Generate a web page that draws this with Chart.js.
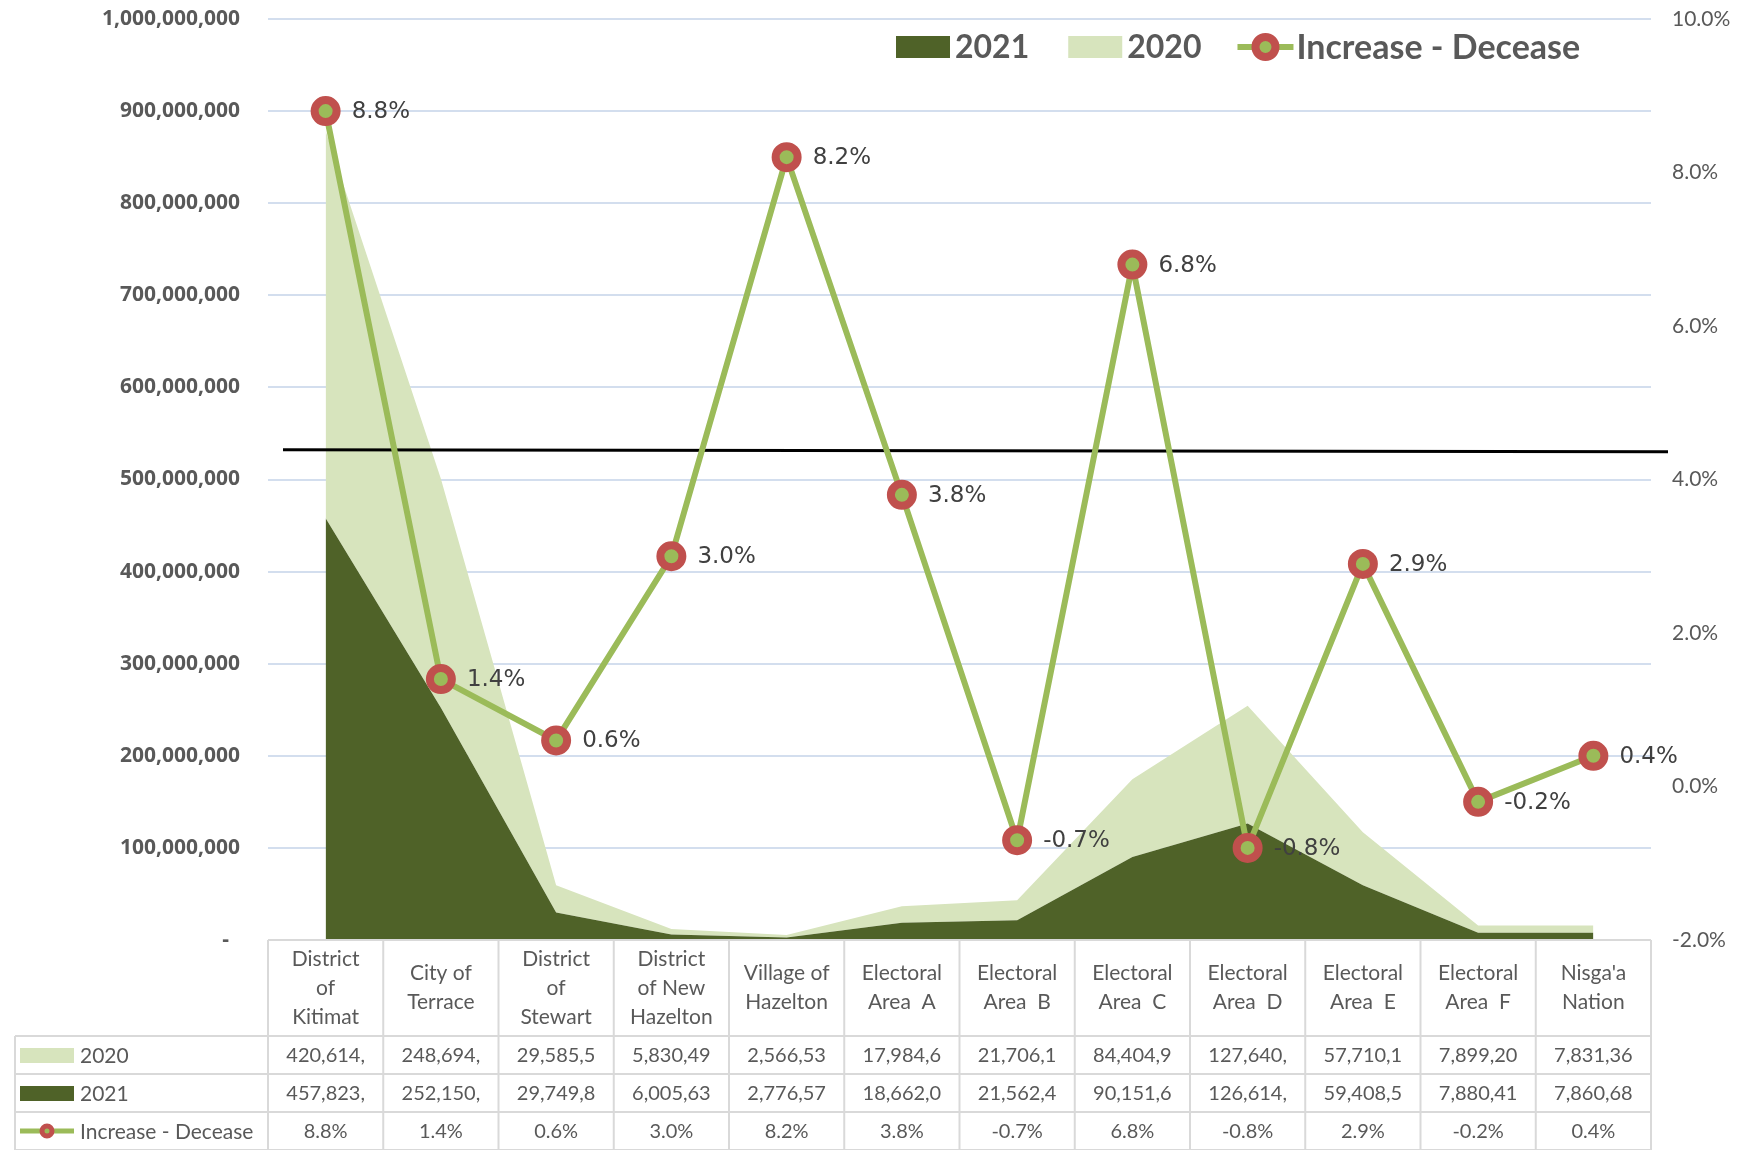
<!DOCTYPE html>
<html><head><meta charset="utf-8">
<script src="https://cdn.jsdelivr.net/npm/chart.js@4.4.1/dist/chart.umd.min.js"></script>
<style>html,body{margin:0;padding:0;background:#fff}canvas{display:block}</style>
</head><body>
<canvas id="c" width="1739" height="1150"></canvas>
<script>
// ---- data ----
const categories = [
  ["District","of","Kitimat"],["City of","Terrace"],["District","of","Stewart"],
  ["District","of New","Hazelton"],["Village of","Hazelton"],["Electoral","Area  A"],
  ["Electoral","Area  B"],["Electoral","Area  C"],["Electoral","Area  D"],
  ["Electoral","Area  E"],["Electoral","Area  F"],["Nisga'a","Nation"]
];
const values2020 = [420614000, 248694000, 29585500, 5830490, 2566530, 17984600, 21706100, 84404900, 127640000, 57710100, 7899200, 7831360];
const values2021 = [457823000, 252150000, 29749800, 6005630, 2776570, 18662000, 21562400, 90151600, 126614000, 59408500, 7880410, 7860680];
const changePct = [8.8, 1.4, 0.6, 3.0, 8.2, 3.8, -0.7, 6.8, -0.8, 2.9, -0.2, 0.4];
const leftAxisRange = [0, 1000000000, 100000000];   // min, max, step
const rightAxisRange = [-2, 10, 2];                  // min, max, step (percent)
const benchmarkPct = 4.38;                           // black reference line (right axis)
const seriesNames = ["2021", "2020", "Increase - Decease"];

// ---- style ----
const C = {dark:'#4F6228', light:'#D7E4BD', line:'#9BBB59', marker:'#C0504D',
           text:'#595959', label:'#404040', grid:'#D3DEEE', border:'#D9D9D9'};

const fmtPct = v => v.toFixed(1) + '%';
const fmtNum = v => Math.round(v).toLocaleString('en-US');

const benchmarkPlugin = {
  id:'benchmark',
  beforeDatasetDraw(chart, args){
    if (args.index !== 0) return;
    const ctx = chart.ctx, a = chart.chartArea;
    const y = chart.scales.y1.getPixelForValue(benchmarkPct);
    ctx.save();
    ctx.strokeStyle = '#000'; ctx.lineWidth = 3;
    ctx.beginPath(); ctx.moveTo(a.left + 15, y - 0.5); ctx.lineTo(a.right + 17, y + 1.5); ctx.stroke();
    ctx.restore();
  }
};

const labelPlugin = {
  id:'pctLabels',
  afterDatasetsDraw(chart){
    const ctx = chart.ctx; const meta = chart.getDatasetMeta(0);
    ctx.save();
    ctx.font = '23px "DejaVu Sans"'; ctx.fillStyle = C.label;
    ctx.textAlign = 'left'; ctx.textBaseline = 'middle';
    meta.data.forEach((pt, i) => ctx.fillText(fmtPct(changePct[i]), pt.x + 26, pt.y + 1));
    ctx.restore();
  }
};

function drawMarker(ctx, x, y, r, bw){
  ctx.beginPath(); ctx.arc(x, y, r, 0, Math.PI*2);
  ctx.fillStyle = C.line; ctx.fill();
  ctx.lineWidth = bw; ctx.strokeStyle = C.marker; ctx.stroke();
}

const legendPlugin = {
  id:'customLegend',
  afterDraw(chart){
    const ctx = chart.ctx; ctx.save();
    const cy = 47;
    ctx.font = 'bold 32px Lato'; ctx.textBaseline = 'middle'; ctx.textAlign = 'left';
    let x = 896;
    // 2021
    ctx.fillStyle = C.dark; ctx.fillRect(x, cy - 11, 54, 22); x += 59;
    ctx.fillStyle = C.text; ctx.fillText(seriesNames[0], x, cy + 1); x += ctx.measureText(seriesNames[0]).width + 39;
    // 2020
    ctx.fillStyle = C.light; ctx.fillRect(x, cy - 11, 54, 22); x += 59;
    ctx.fillStyle = C.text; ctx.fillText(seriesNames[1], x, cy + 1); x += ctx.measureText(seriesNames[1]).width + 36;
    // line
    ctx.strokeStyle = C.line; ctx.lineWidth = 6;
    ctx.beginPath(); ctx.moveTo(x, cy); ctx.lineTo(x + 56, cy); ctx.stroke();
    drawMarker(ctx, x + 28, cy, 10, 8);
    x += 59;
    ctx.font = 'bold 34px Lato';
    ctx.fillStyle = C.text; ctx.fillText(seriesNames[2], x, cy + 1);
    ctx.restore();
  }
};

const tablePlugin = {
  id:'dataTable',
  afterDraw(chart){
    const ctx = chart.ctx, xs = chart.scales.x, a = chart.chartArea;
    const n = categories.length;
    const band = (a.right - a.left) / n;
    const top = a.bottom, headerH = 96, rowH = 38, leftEdge = 15;
    const rowsY = [top, top + headerH, top + headerH + rowH, top + headerH + 2*rowH, top + headerH + 3*rowH];
    ctx.save();
    ctx.strokeStyle = C.border; ctx.lineWidth = 2;
    ctx.beginPath();
    ctx.moveTo(a.left, rowsY[0]); ctx.lineTo(a.right, rowsY[0]);
    for (let r = 1; r < rowsY.length; r++){ ctx.moveTo(leftEdge, rowsY[r]); ctx.lineTo(a.right, rowsY[r]); }
    for (let i = 0; i <= n; i++){ const bx = a.left + i*band; ctx.moveTo(bx, rowsY[0]); ctx.lineTo(bx, 1150); }
    ctx.moveTo(leftEdge, rowsY[1]); ctx.lineTo(leftEdge, 1150);
    ctx.stroke();

    ctx.fillStyle = C.text; ctx.textAlign = 'center'; ctx.textBaseline = 'middle';
    ctx.font = '21px Lato';
    const hc = (rowsY[0] + rowsY[1]) / 2;
    categories.forEach((lines, i) => {
      const cx = xs.getPixelForValue(i);
      const lh = 29, y0 = hc - (lines.length - 1) * lh / 2;
      lines.forEach((t, k) => ctx.fillText(t, cx, y0 + k*lh));
    });
    ctx.font = '20px Lato';
    const rowData = [values2020.map(v => fmtNum(v).slice(0, 8)), values2021.map(v => fmtNum(v).slice(0, 8)), changePct.map(fmtPct)];
    rowData.forEach((arr, r) => {
      const cy = (rowsY[r+1] + rowsY[r+2]) / 2;
      arr.forEach((t, i) => ctx.fillText(t, xs.getPixelForValue(i), cy + 1));
    });
    // row headers
    ctx.textAlign = 'left'; ctx.font = '21px Lato';
    const rc = r => (rowsY[r+1] + rowsY[r+2]) / 2;
    ctx.fillStyle = C.light; ctx.fillRect(20, rc(0) - 7, 54, 15);
    ctx.fillStyle = C.text; ctx.fillText(seriesNames[1], 80, rc(0) + 1);
    ctx.fillStyle = C.dark; ctx.fillRect(20, rc(1) - 7, 54, 15);
    ctx.fillStyle = C.text; ctx.fillText(seriesNames[0], 80, rc(1) + 1);
    ctx.strokeStyle = C.line; ctx.lineWidth = 5;
    ctx.beginPath(); ctx.moveTo(20, rc(2)); ctx.lineTo(74, rc(2)); ctx.stroke();
    drawMarker(ctx, 47, rc(2), 5, 5);
    ctx.fillStyle = C.text; ctx.fillText(seriesNames[2], 80, rc(2) + 1);
    ctx.restore();
  }
};

function fixFit(width){
  return function(s){ s.width = width; s.paddingTop = 0; s.paddingBottom = 0; };
}

new Chart(document.getElementById('c'), {
  type:'line',
  data:{
    labels: categories.map(c => c.join(' ')),
    datasets:[
      {label:seriesNames[2], data:changePct, yAxisID:'y1', order:1, fill:false, tension:0,
       borderColor:C.line, borderWidth:6, pointRadius:11, pointBorderWidth:8,
       pointBackgroundColor:C.line, pointBorderColor:C.marker, pointHoverRadius:11},
      {label:seriesNames[0], data:values2021, yAxisID:'y', order:2, stack:'v', fill:'origin', tension:0,
       backgroundColor:C.dark, borderColor:'rgba(0,0,0,0)', borderWidth:0, pointRadius:0},
      {label:seriesNames[1], data:values2020, yAxisID:'y', order:3, stack:'v', fill:'-1', tension:0,
       backgroundColor:C.light, borderColor:'rgba(0,0,0,0)', borderWidth:0, pointRadius:0}
    ]
  },
  options:{
    responsive:false, animation:false, devicePixelRatio:1,
    layout:{padding:{top:17, bottom:210, left:0, right:0}},
    plugins:{legend:{display:false}, tooltip:{enabled:false}},
    scales:{
      x:{display:false, offset:true},
      y:{position:'left', stacked:true, min:leftAxisRange[0], max:leftAxisRange[1],
         ticks:{stepSize:leftAxisRange[2], padding:28, color:C.text,
                font:{family:'"Open Sans"', size:21, weight:'bold'},
                callback:v => v === 0 ? '-  ' : fmtNum(v)},
         grid:{color:C.grid, lineWidth:2, drawTicks:false}, border:{display:false},
         afterFit: fixFit(268)},
      y1:{position:'right', min:rightAxisRange[0], max:rightAxisRange[1],
         ticks:{stepSize:rightAxisRange[2], padding:21, color:C.text,
                font:{family:'Lato', size:21}, callback:v => fmtPct(v)},
         grid:{display:false, drawTicks:false}, border:{display:false},
         afterFit: fixFit(88)}
    }
  },
  plugins:[benchmarkPlugin, labelPlugin, legendPlugin, tablePlugin]
});
</script>
</body></html>
